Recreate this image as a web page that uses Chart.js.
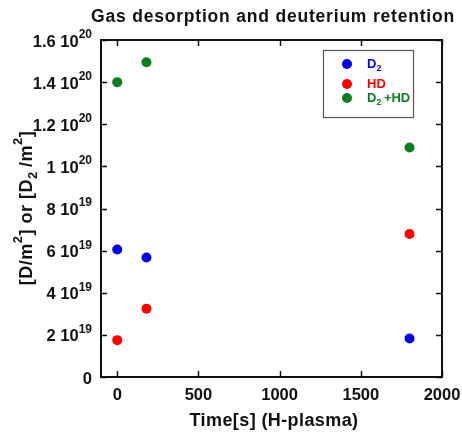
<!DOCTYPE html>
<html>
<head>
<meta charset="utf-8">
<script src="https://cdn.jsdelivr.net/npm/chart.js@4.4.0/dist/chart.umd.min.js"></script>
<style>
    body { margin: 0; background: #ffffff; }
    #box { position: relative; width: 462px; height: 439px; }
</style>
</head>
<body>
<div id="box"><canvas id="gas-chart" width="462" height="439"></canvas></div>
<script>
// time points (s) and measured amounts
const times = [0, 180, 1800];
const d2Values = [6.05e19, 5.67e19, 1.83e19];
const hdValues = [1.75e19, 3.24e19, 6.79e19];
const sumValues = [1.40e20, 1.494e20, 1.09e20];

const xTicks = [0, 500, 1000, 1500, 2000];
const yTicks = [0, 2e19, 4e19, 6e19, 8e19, 1e20, 1.2e20, 1.4e20, 1.6e20];

const seriesNames = ['D2', 'HD', 'D2+HD'];
const seriesColors = ['#0000e6', '#ff0000', '#0a7d1e'];

const FONT = '"Liberation Sans", Arial, sans-serif';

// draw a string made of normal / sup / sub parts
function drawRich(ctx, parts, x, y, align, size, spacing) {
    const small = Math.round(size * 0.7);
    ctx.letterSpacing = (spacing || 0) + 'px';
    let total = 0;
    parts.forEach(p => {
        ctx.font = 'bold ' + (p.m ? small : size) + 'px ' + FONT;
        p.w = ctx.measureText(p.t).width;
        total += p.w;
    });
    let cx = x;
    if (align === 'center') cx = x - total / 2;
    if (align === 'right') cx = x - total;
    ctx.textAlign = 'left';
    ctx.textBaseline = 'middle';
    parts.forEach(p => {
        let dy = 0;
        if (p.m === 'sup') dy = -size * 0.45;
        if (p.m === 'sub') dy = size * 0.38;
        ctx.font = 'bold ' + (p.m ? small : size) + 'px ' + FONT;
        ctx.fillText(p.t, cx, y + dy);
        cx += p.w;
    });
    ctx.letterSpacing = '0px';
}

function yLabel(v) {
    if (v === 0) return [{t: '0'}];
    const e = Math.floor(Math.log10(v) + 1e-9);
    const m = Math.round(v / Math.pow(10, e) * 10) / 10;
    return [{t: m + ' 10'}, {t: String(e), m: 'sup'}];
}

const decorations = {
    id: 'decorations',
    afterDraw(chart) {
        const {ctx, chartArea: a, scales: {x, y}} = chart;
        ctx.save();
        ctx.fillStyle = '#111111';
        ctx.strokeStyle = '#111111';

        // frame
        ctx.lineWidth = 2;
        ctx.strokeRect(a.left, a.top, a.right - a.left, a.bottom - a.top);

        // inward ticks on all four sides
        const tl = 6;
        ctx.lineWidth = 1.5;
        ctx.beginPath();
        xTicks.forEach(v => {
            const px = Math.round(x.getPixelForValue(v)) + 0.5;
            ctx.moveTo(px, a.bottom); ctx.lineTo(px, a.bottom - tl);
            ctx.moveTo(px, a.top); ctx.lineTo(px, a.top + tl);
        });
        yTicks.forEach(v => {
            const py = Math.round(y.getPixelForValue(v)) + 0.5;
            ctx.moveTo(a.left, py); ctx.lineTo(a.left + tl, py);
            ctx.moveTo(a.right, py); ctx.lineTo(a.right - tl, py);
        });
        ctx.stroke();

        // tick labels
        xTicks.forEach(v => {
            drawRich(ctx, [{t: String(v)}], x.getPixelForValue(v), 395, 'center', 16.5);
        });
        yTicks.forEach(v => {
            drawRich(ctx, yLabel(v), 92, y.getPixelForValue(v) + 2, 'right', 16.5);
        });

        // titles
        drawRich(ctx, [{t: 'Gas desorption and deuterium retention'}], 273, 17, 'center', 17.5, 0.8);
        drawRich(ctx, [{t: 'Time[s] (H-plasma)'}], 274, 421, 'center', 18, 0.4);

        ctx.save();
        ctx.translate(27, 208);
        ctx.rotate(-Math.PI / 2);
        drawRich(ctx, [
            {t: '[D/m'}, {t: '2', m: 'sup'}, {t: '] or [D'}, {t: '2 ', m: 'sub'},
            {t: '/m'}, {t: '2', m: 'sup'}, {t: ']'}
        ], 0, 0, 'center', 18, 0.5);
        ctx.restore();

        // legend box
        ctx.lineWidth = 1.2;
        ctx.strokeStyle = '#555555';
        ctx.strokeRect(323.5, 50.5, 90, 67);
        const rows = [64, 84, 98];
        const labels = [
            [{t: 'D'}, {t: '2', m: 'sub'}],
            [{t: 'HD'}],
            [{t: 'D'}, {t: '2 ', m: 'sub'}, {t: '+HD'}]
        ];
        rows.forEach((ry, i) => {
            ctx.fillStyle = seriesColors[i];
            ctx.beginPath();
            ctx.arc(347, ry, 5, 0, Math.PI * 2);
            ctx.fill();
            drawRich(ctx, labels[i], 367, ry, 'left', 13);
        });
        ctx.restore();
    }
};

const datasets = [d2Values, hdValues, sumValues].map((vals, i) => ({
    label: seriesNames[i],
    data: times.map((t, k) => ({x: t, y: vals[k]})),
    backgroundColor: seriesColors[i],
    borderColor: seriesColors[i],
    pointRadius: 5,
    pointBorderWidth: 0
}));

new Chart(document.getElementById('gas-chart').getContext('2d'), {
    type: 'scatter',
    data: {datasets: datasets},
    options: {
        responsive: false,
        animation: false,
        layout: {
            padding: {left: 101, right: 20, top: 40, bottom: 62}
        },
        scales: {
            x: {type: 'linear', display: false, min: -100, max: 2000},
            y: {type: 'linear', display: false, min: 0, max: 1.6e20}
        },
        plugins: {
            legend: {display: false},
            tooltip: {enabled: false}
        }
    },
    plugins: [decorations]
});
</script>
</body>
</html>
